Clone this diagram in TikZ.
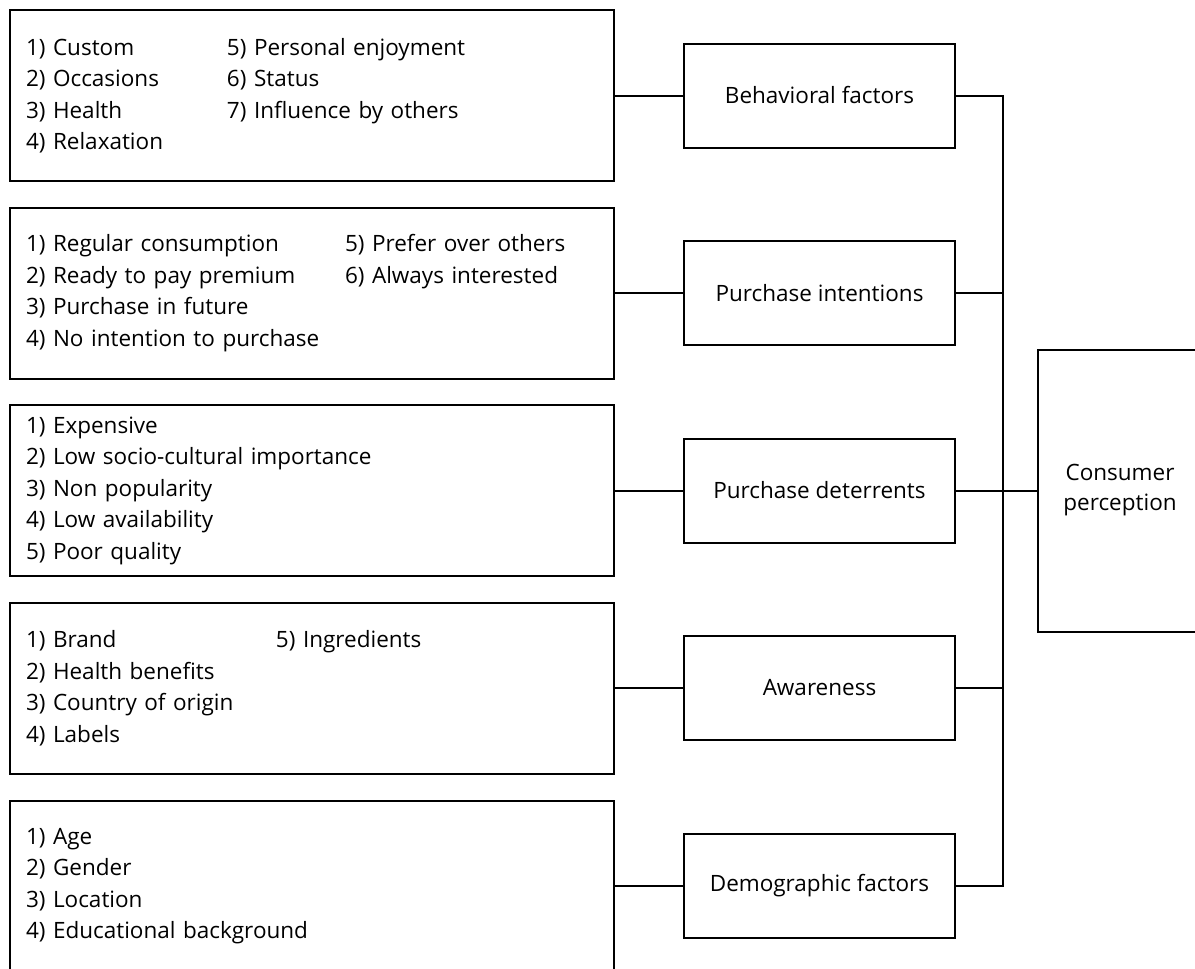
\documentclass[tikz,border=0pt]{standalone}
\usepackage{fontspec}
\setmainfont{Open Sans}
\usetikzlibrary{positioning}

\tikzset{
  listbox/.style={draw, line width=2pt, minimum width=604pt, minimum height=171pt,
    text width=572pt, inner xsep=16pt, align=left},
  factorbox/.style={draw, line width=2pt, minimum width=271pt, minimum height=104pt, align=center},
  link/.style={line width=2pt}
}
\newcommand{\colA}[2]{\makebox[#1][l]{#2}}

\begin{document}
\begin{tikzpicture}[x=1pt,y=-1pt,font=\fontsize{22.5}{31.5}\selectfont]
        \useasboundingbox (0,0) rectangle (1195,969);

        %lists
        \node[listbox] (behavlist) at (312,95.5) {\colA{201pt}{1) Custom}5) Personal enjoyment\\
          \colA{201pt}{2) Occasions}6) Status\\
          \colA{201pt}{3) Health}7) Influence by others\\
          4) Relaxation};
        \node[listbox] (intentlist) at (312,293) {\colA{319pt}{1) Regular consumption}5) Prefer over others\\
          \colA{319pt}{2) Ready to pay premium}6) Always interested\\
          3) Purchase in future\\
          4) No intention to purchase};
        \node[listbox] (deterlist) at (312,490.5) {1) Expensive\\
          2) Low socio-cultural importance\\
          3) Non popularity\\
          4) Low availability\\
          5) Poor quality};
        \node[listbox] (awarelist) at (312,688) {\colA{250pt}{1) Brand}5) Ingredients\\
          2) Health benefits\\
          3) Country of origin\\
          4) Labels};
        \node[listbox] (demolist) at (312,886) {1) Age\\
          2) Gender\\
          3) Location\\
          4) Educational background};

        %factors
        \node[factorbox] (behav) at (819.5,95.5) {Behavioral factors};
        \node[factorbox] (intent) at (819.5,293) {Purchase intentions};
        \node[factorbox] (deter) at (819.5,490.5) {Purchase deterrents};
        \node[factorbox] (aware) at (819.5,688) {Awareness};
        \node[factorbox] (demo) at (819.5,886) {Demographic factors};

        %result
        \node[draw, line width=2pt, minimum width=164pt, minimum height=282pt, align=center,
          font=\fontsize{22.5}{30}\selectfont] (percep) at (1120,490.5) {Consumer\\perception};

        %list to factor
        \draw[link] (behavlist) -- (behav);
        \draw[link] (intentlist) -- (intent);
        \draw[link] (deterlist) -- (deter);
        \draw[link] (awarelist) -- (aware);
        \draw[link] (demolist) -- (demo);

        %bus
        \coordinate (bustop) at (1003,95.5);
        \coordinate (busbot) at (1003,886);
        \draw[link] (behav.east) -- (bustop) -- (busbot) -- (demo.east);
        \draw[link] (intent.east) -- (intent.east -| bustop);
        \draw[link] (aware.east) -- (aware.east -| bustop);
        \draw[link] (deter.east) -- (percep.west);
\end{tikzpicture}
\end{document}
